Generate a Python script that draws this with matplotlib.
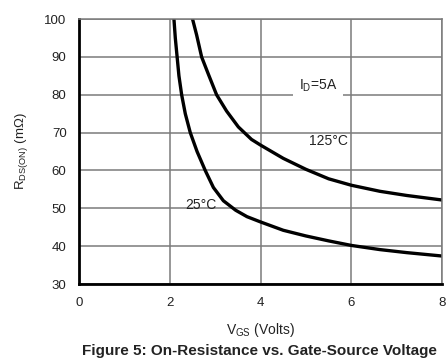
import matplotlib.pyplot as plt

plt.rcParams['font.family'] = ['Liberation Sans', 'DejaVu Sans']

# curves (V_GS in volts, R_DS(on) in mOhm)
vgs_25 = [2.09, 2.12, 2.16, 2.20, 2.26, 2.34, 2.45, 2.60, 2.78, 2.96, 3.18, 3.45,
          3.70, 4.0, 4.5, 5.0, 5.5, 6.0, 6.63, 7.22, 8.0]
rds_25 = [100, 95, 90, 85, 80, 75, 70, 65, 60, 55.5, 52.0, 49.5,
          47.8, 46.4, 44.2, 42.7, 41.4, 40.2, 39.1, 38.3, 37.4]

vgs_125 = [2.50, 2.59, 2.70, 2.85, 3.03, 3.25, 3.51, 3.80, 4.0, 4.5, 5.0, 5.5,
           6.0, 6.63, 7.22, 8.0]
rds_125 = [100, 95.8, 90, 85.4, 80, 75.7, 71.5, 68.2, 66.7, 63.2, 60.3, 57.8,
           56.1, 54.5, 53.4, 52.2]

x_ticks = [0, 2, 4, 6, 8]
y_ticks = [30, 40, 50, 60, 70, 80, 90, 100]

fig = plt.figure(figsize=(4.47, 3.6), dpi=100)
ax = fig.add_axes([0.177, 0.211, 0.812, 0.736])

grid_col = '#7a7a7a'
txt_col = '#222222'
ax.set_xlim(0, 8)
ax.set_ylim(30, 100)
ax.set_xticks(x_ticks)
ax.set_yticks(y_ticks)
ax.grid(True, color=grid_col, linewidth=1.1)
ax.set_axisbelow(True)
ax.tick_params(length=0, labelsize=9.5, colors=txt_col, pad=9)

for s in ['top', 'right']:
    ax.spines[s].set_color(grid_col)
    ax.spines[s].set_linewidth(1.1)
for s in ['left', 'bottom']:
    ax.spines[s].set_color('black')
    ax.spines[s].set_linewidth(2.0)

ax.plot(vgs_25, rds_25, color='black', linewidth=2.4, solid_joinstyle='round')
ax.plot(vgs_125, rds_125, color='black', linewidth=2.4, solid_joinstyle='round')

ax.text(5.27, 82.3, r'I$_\mathregular{D}$=5A', fontsize=10, ha='center', va='center',
        color=txt_col, bbox=dict(facecolor='white', edgecolor='none', pad=4))
ax.text(5.5, 67.9, '125°C', fontsize=10, ha='center', va='center', color=txt_col)
ax.text(2.69, 50.8, '25°C', fontsize=10, ha='center', va='center', color=txt_col)

ax.set_ylabel(r'R$_\mathregular{DS(ON)}$ (mΩ)', fontsize=9.5, color=txt_col, labelpad=10)
ax.set_xlabel(r'V$_\mathregular{GS}$ (Volts)', fontsize=10, color=txt_col, labelpad=9)
fig.text(0.58, 0.025, 'Figure 5: On-Resistance vs. Gate-Source Voltage', fontsize=11,
         fontweight='bold', ha='center', va='center', color=txt_col)

fig.savefig('out.png', dpi=100)
